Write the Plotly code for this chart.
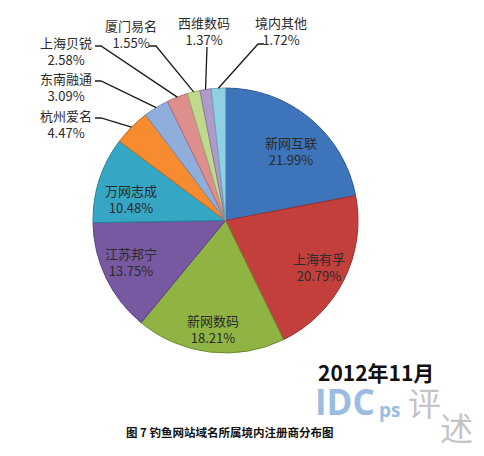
import math
import plotly.graph_objects as go

# Registrar share of phishing domains (November 2012)
registrars = ["新网互联", "上海有孚", "新网数码", "江苏邦宁", "万网志成", "杭州爱名",
              "东南融通", "上海贝锐", "厦门易名", "西维数码", "境内其他"]
shares = [21.99, 20.79, 18.21, 13.75, 10.48, 4.47, 3.09, 2.58, 1.55, 1.37, 1.72]

colors = ["#3E74B9", "#C23F3C", "#8FB443", "#7659A0", "#35A7C4", "#F68B2F",
          "#8FAEDB", "#DE8E8C", "#C0D98C", "#AE9BCB", "#8FD0E2"]
edges = ["#2C5A94", "#973230", "#6E8C30", "#594283", "#23819A", "#C56A1E",
         "#6D8DBB", "#B56C6A", "#98AF6C", "#8A78A6", "#66A9BB"]

W, H = 484, 456
CX, CY, R = 225.5, 220.5, 132.5  # pie centre / radius in pixels

# label placement: (text centre x, text centre y, leader start x, leader start y, elbow)
label_pos = {
    "新网互联": (291, 151, None),
    "上海有孚": (319, 267, None),
    "新网数码": (213, 329, None),
    "江苏邦宁": (131, 262, None),
    "万网志成": (131, 199, None),
    "杭州爱名": (66, 124, (95, 118, 101)),
    "东南融通": (66, 87, (95, 81, 101)),
    "上海贝锐": (66, 51, (95, 46, 101)),
    "厦门易名": (131, 34, (149, 46, 156)),
    "西维数码": (204, 31, (207, 47, None)),
    "境内其他": (281, 31, (264, 44, 258)),
}

fig = go.Figure(go.Pie(
    labels=registrars,
    values=shares,
    sort=False,
    direction="clockwise",
    rotation=0,
    textinfo="none",
    hoverinfo="label+value",
    marker=dict(colors=colors, line=dict(color=edges, width=1)),
    domain=dict(x=[(CX - R) / W, (CX + R) / W],
                y=[(H - CY - R) / H, (H - CY + R) / H]),
    showlegend=False,
))


def px(x):
    return x / W


def py(y):
    return 1 - y / H


def note(x, y, text, size, color, family="Noto Sans CJK SC"):
    return dict(x=px(x), y=py(y), xref="paper", yref="paper", text=text,
                showarrow=False, xanchor="center", yanchor="middle", align="center",
                font=dict(family=family, size=size, color=color))


annotations = []
shapes = []
total = sum(shares)
cum = 0.0
for name, val in zip(registrars, shares):
    mid = (cum + val / 2) / total * 2 * math.pi
    cum += val
    tx, ty, lead = label_pos[name]
    annotations.append(note(tx, ty, f"{name}<br>{val:.2f}%", 13, "#2b2b2b"))
    if lead is not None:
        sx, sy, elbow = lead
        ex = CX + R * math.sin(mid)
        ey = CY - R * math.cos(mid)
        if elbow is None:
            path = f"M {px(sx)} {py(sy)} L {px(ex)} {py(ey)}"
        else:
            path = f"M {px(sx)} {py(sy)} L {px(elbow)} {py(sy)} L {px(ex)} {py(ey)}"
        shapes.append(dict(type="path", xref="paper", yref="paper", path=path,
                           line=dict(color="#1a1a1a", width=1.3)))

# date stamp, watermark and caption
annotations += [
    note(376, 372, "<b>2012年11月</b>", 21, "#111111"),
    note(345, 401, "<b>IDC</b>", 35, "#9BBCE2", family="Open Sans"),
    note(389, 410, "<b>ps</b>", 19, "#9BBCE2", family="Open Sans"),
    note(424, 402, "评", 33, "#C4C4C4"),
    note(456, 427, "述", 33, "#C4C4C4"),
    note(230, 432, "<b>图 7 钓鱼网站域名所属境内注册商分布图</b>", 11.5, "#111111"),
]

fig.update_layout(
    width=W, height=H,
    margin=dict(l=0, r=0, t=0, b=0),
    paper_bgcolor="white", plot_bgcolor="white",
    annotations=annotations, shapes=shapes,
)

fig.write_html("out.html")
